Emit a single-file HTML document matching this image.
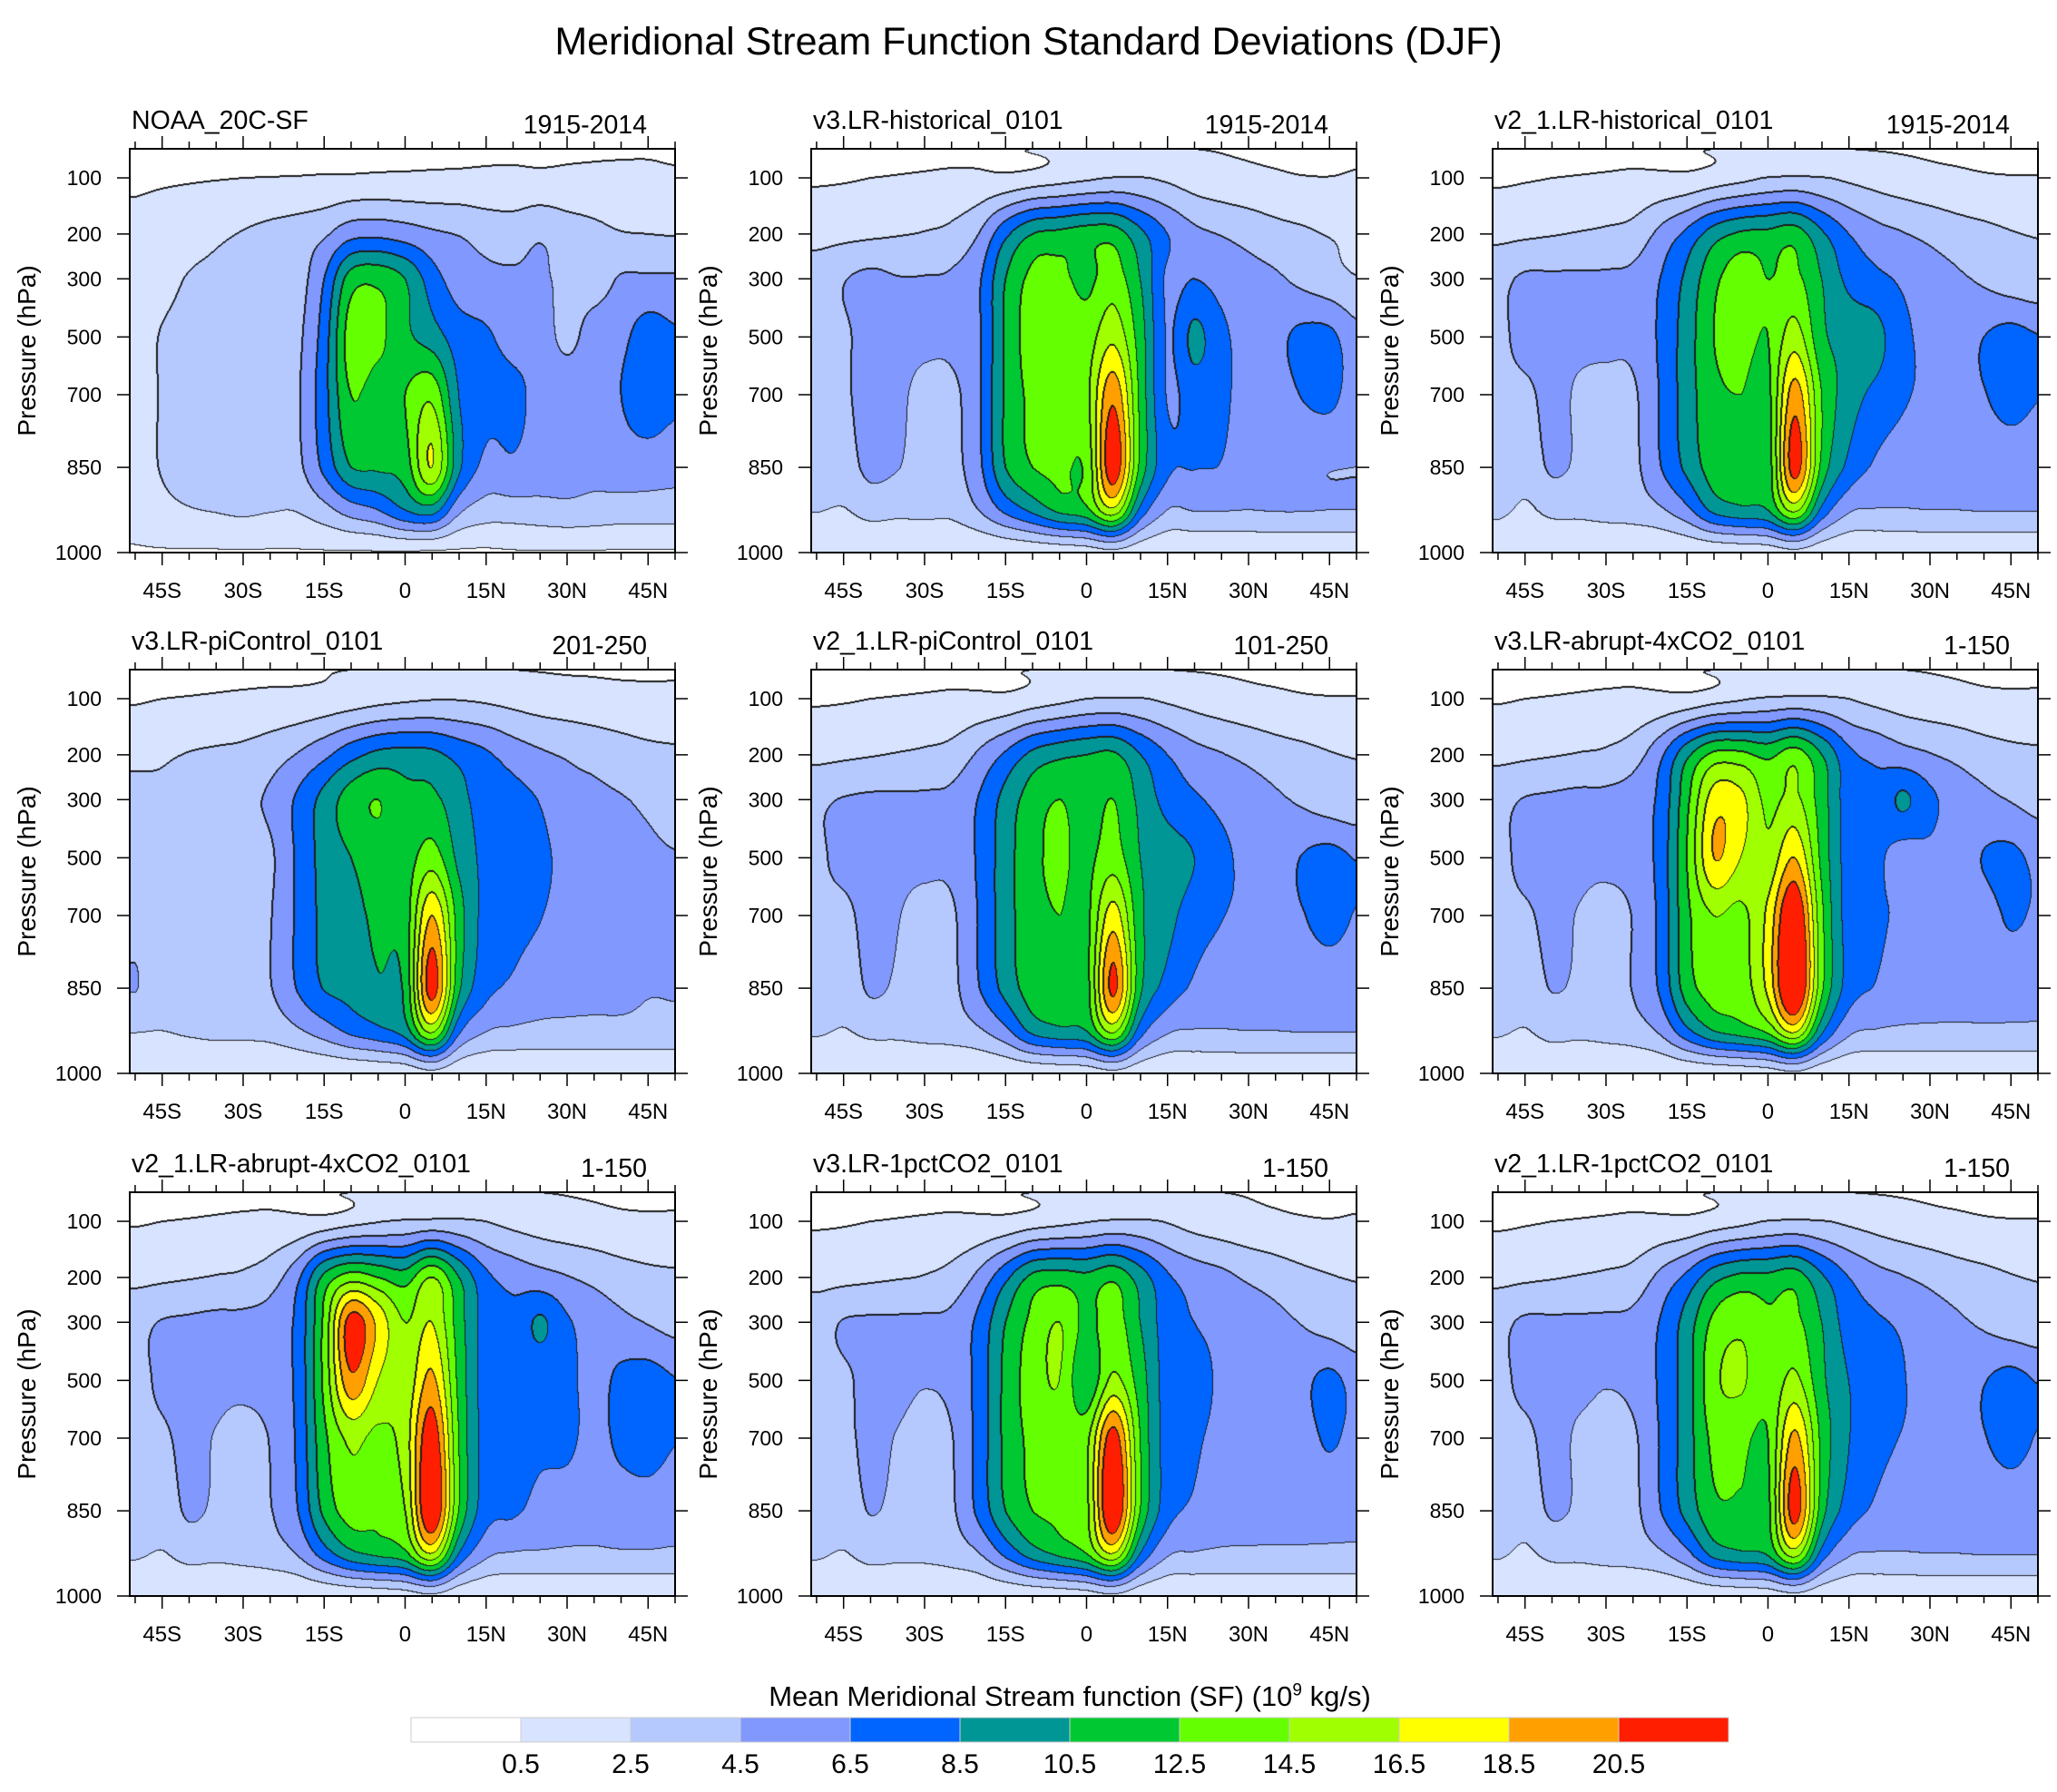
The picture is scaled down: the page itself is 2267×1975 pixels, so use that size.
<!DOCTYPE html>
<html><head><meta charset="utf-8">
<style>
html,body{margin:0;padding:0;background:#fff;}
body{width:2267px;height:1975px;position:relative;overflow:hidden;font-family:"Liberation Sans",sans-serif;}
.t{position:absolute;white-space:nowrap;color:#000;}
canvas{position:absolute;}
svg{position:absolute;left:0;top:0;}
</style></head>
<body>
<div class="t" style="left:0;width:2267px;text-align:center;top:22px;font-size:43px;">Meridional Stream Function Standard Deviations (DJF)</div>
<div class="t" style="left:0;width:2358px;text-align:center;top:1852px;font-size:31px;">Mean Meridional Stream function (SF) (10<sup style="font-size:19px">9</sup> kg/s)</div>
<svg id="ov" width="2267" height="1975"></svg>
<script>
const LATS=[-50,-45,-40,-35,-30,-25,-20,-15,-10,-5,0,5,10,15,20,25,30,35,40,45,50];
const LEVELS=[70,100,200,300,500,700,850,925,1000];
const P_TICKS=[100,200,300,500,700,850,1000];
const LAT_TICKS=[-45,-30,-15,0,15,30,45];
const LAT_TICK_LABELS=["45S","30S","15S","0","15N","30N","45N"];
const THRESHOLDS=[0.5,2.5,4.5,6.5,8.5,10.5,12.5,14.5,16.5,18.5,20.5];
const COLORBAR_LABELS=["0.5","2.5","4.5","6.5","8.5","10.5","12.5","14.5","16.5","18.5","20.5"];
const COLORS=["#ffffff","#d7e3ff","#b5c9ff","#8199ff","#0064ff","#009696","#00c832","#64ff00","#a0ff00","#ffff00","#ffa000","#ff1e00"];
const NAMES=["NOAA_20C-SF","v3.LR-historical_0101","v2_1.LR-historical_0101","v3.LR-piControl_0101","v2_1.LR-piControl_0101","v3.LR-abrupt-4xCO2_0101","v2_1.LR-abrupt-4xCO2_0101","v3.LR-1pctCO2_0101","v2_1.LR-1pctCO2_0101"];
const PERIODS=["1915-2014","1915-2014","1915-2014","201-250","101-250","1-150","1-150","1-150","1-150"];
const P1=[
[0.2,0.2,0.2,0.2,0.2,0.2,0.25,0.3,0.3,0.35,0.4,0.4,0.4,0.4,0.4,0.4,0.4,0.4,0.4,0.4,0.35],
[0.3,0.35,0.4,0.45,0.5,0.55,0.6,0.7,0.8,0.9,0.9,0.9,0.9,0.9,0.9,0.9,0.9,0.9,0.9,0.9,0.8],
[1.0,1.4,1.8,2.2,2.6,3.0,3.4,4.2,5.8,6.0,5.5,4.8,4.4,3.8,3.6,4.2,3.5,3.0,2.6,2.5,2.4],
[1.5,2.0,2.6,2.8,2.9,3.0,3.6,6.5,11.5,12.0,10.5,7.5,5.5,5.0,4.8,4.8,4.0,3.5,4.7,4.8,4.8],
[1.8,2.6,2.9,3.0,3.0,3.1,4.0,7.5,13.5,13.0,11.0,9.5,7.5,6.8,5.8,5.6,4.0,5.5,6.0,7.5,6.8],
[1.8,2.6,3.0,3.0,3.0,3.2,4.2,7.8,12.5,11.5,12.5,14.0,8.5,7.2,7.0,6.0,5.8,5.5,6.5,7.8,7.0],
[1.8,2.6,3.0,3.0,3.0,3.2,4.0,7.0,10.5,10.8,11.5,16.5,9.0,6.0,6.2,5.5,5.2,5.0,5.5,5.5,5.2],
[1.2,2.0,2.4,2.6,2.8,2.6,2.6,3.8,5.5,6.5,8.5,9.5,5.0,3.6,3.6,3.8,4.0,3.8,3.6,3.6,3.6],
[0.4,0.4,0.4,0.4,0.4,0.4,0.4,0.4,0.4,0.4,0.4,0.3,0.3,0.3,0.4,0.4,0.4,0.4,0.4,0.4,0.4]];
const P2=[
[0.2,0.2,0.25,0.3,0.3,0.35,0.4,0.45,0.5,0.55,0.6,0.6,0.6,0.55,0.5,0.45,0.4,0.35,0.3,0.3,0.35],
[0.35,0.4,0.5,0.6,0.7,0.8,0.9,1.0,1.4,1.8,2.2,2.6,2.6,2.2,1.6,1.2,1.0,0.8,0.6,0.55,0.7],
[1.8,2.0,2.2,2.4,2.6,3.0,4.5,8.0,10.5,11.0,11.5,11.5,9.0,6.5,5.0,4.4,3.8,3.2,2.8,2.4,2.2],
[3.6,4.4,5.0,4.6,4.6,4.8,6.2,10.5,13.0,13.0,12.0,13.5,10.5,6.2,6.5,5.8,5.2,4.8,4.0,3.2,2.6],
[3.6,4.2,5.2,5.2,5.0,5.0,6.2,10.8,13.5,14.0,13.5,16.0,11.5,6.4,9.0,7.0,5.8,6.0,7.0,7.0,5.2],
[3.6,4.2,5.2,5.0,3.8,4.0,6.2,10.8,13.0,13.5,14.0,20.0,12.0,6.4,7.5,7.0,5.6,5.5,6.6,7.0,5.6],
[3.6,3.6,5.0,4.6,3.6,3.8,6.0,10.5,12.5,13.0,13.0,22.0,12.0,7.0,6.6,6.4,5.0,4.9,4.8,4.6,4.5],
[2.6,2.4,3.2,3.0,3.0,3.0,4.5,7.0,9.0,11.0,12.0,16.0,8.0,4.5,4.6,4.6,4.5,4.6,4.6,4.5,4.5],
[0.6,0.6,0.6,0.6,0.6,0.6,0.6,0.8,1.0,1.2,1.5,2.0,1.2,0.8,0.7,0.7,0.7,0.7,0.7,0.7,0.7]];
const P3=[
[0.2,0.2,0.25,0.3,0.3,0.35,0.4,0.45,0.5,0.55,0.6,0.6,0.55,0.5,0.45,0.4,0.35,0.3,0.3,0.3,0.3],
[0.3,0.4,0.5,0.6,0.7,0.8,0.9,1.0,1.5,2.0,2.6,2.8,2.6,2.2,1.8,1.4,1.1,0.9,0.7,0.6,0.6],
[2.0,2.2,2.4,2.6,2.8,3.2,5.0,7.0,9.5,10.8,11.0,11.5,8.8,6.5,5.2,4.6,4.0,3.4,3.0,2.6,2.4],
[4.0,4.8,4.8,4.8,4.8,5.0,6.5,9.0,12.0,13.5,12.5,13.0,10.5,8.0,7.0,6.2,5.4,4.8,4.2,3.4,3.0],
[4.0,5.2,5.2,5.0,5.0,5.0,6.8,9.5,12.5,13.2,12.5,15.5,11.0,9.8,9.2,7.0,6.0,5.6,6.5,7.2,6.6],
[4.0,4.0,5.2,4.2,3.8,4.2,6.6,9.5,12.0,12.5,12.0,19.5,12.5,9.5,8.0,6.8,6.0,5.6,6.4,7.2,6.6],
[4.0,3.2,4.8,4.2,3.6,4.0,6.4,9.0,11.5,12.0,11.5,21.5,12.0,8.0,6.2,5.4,5.0,5.0,5.2,5.4,5.2],
[3.0,2.2,3.0,3.0,3.2,3.4,4.2,6.0,9.0,10.0,10.5,15.0,8.0,4.8,4.4,4.4,4.5,4.5,4.6,4.6,4.6],
[0.6,0.5,0.6,0.6,0.6,0.6,0.6,0.8,1.0,1.2,1.4,2.0,1.2,0.8,0.8,0.8,0.8,0.8,0.8,0.8,0.8]];
const P4=[
[0.2,0.2,0.25,0.3,0.3,0.35,0.4,0.45,0.5,0.55,0.6,0.6,0.6,0.55,0.5,0.45,0.4,0.4,0.35,0.35,0.35],
[0.4,0.5,0.6,0.7,0.8,0.9,1.0,1.2,1.5,1.9,2.2,2.4,2.4,2.2,1.9,1.6,1.4,1.2,1.1,1.0,1.0],
[1.8,2.2,2.6,2.8,3.0,3.6,4.6,6.0,7.8,9.0,9.2,9.0,7.8,6.8,5.6,4.8,4.3,3.9,3.4,3.0,2.8],
[3.6,3.0,3.8,4.0,4.2,4.8,6.8,9.2,11.5,12.5,11.0,11.0,9.2,7.6,7.2,6.4,5.0,4.8,4.6,4.2,3.6],
[3.6,3.4,3.6,3.6,3.8,4.2,6.8,9.2,10.5,11.5,11.5,13.5,10.0,8.0,7.5,7.0,5.8,4.8,4.8,4.8,4.6],
[3.8,3.4,3.8,3.6,3.8,4.4,6.8,9.0,9.8,11.0,11.5,18.5,11.5,7.8,7.2,6.6,5.6,5.0,5.0,5.0,4.8],
[4.6,3.4,4.0,3.8,3.8,4.4,6.6,8.6,9.2,10.2,11.0,21.5,11.0,7.2,6.2,5.4,5.0,4.8,4.8,4.6,4.6],
[2.6,2.5,2.8,3.0,3.0,3.2,4.2,5.5,7.0,8.0,9.5,15.0,7.0,4.6,4.2,4.0,4.0,4.0,4.0,3.9,3.9],
[0.6,0.6,0.6,0.6,0.6,0.6,0.6,0.7,0.8,1.0,1.2,2.0,1.0,0.7,0.7,0.7,0.7,0.7,0.7,0.7,0.7]];
const P5=[
[0.2,0.2,0.25,0.3,0.3,0.35,0.4,0.45,0.5,0.55,0.6,0.6,0.55,0.5,0.45,0.4,0.35,0.3,0.3,0.3,0.3],
[0.35,0.4,0.5,0.6,0.7,0.8,0.9,1.0,1.5,2.0,2.5,2.7,2.6,2.2,1.8,1.4,1.1,0.9,0.7,0.6,0.6],
[2.0,2.2,2.4,2.6,2.8,3.2,4.8,6.8,9.0,10.0,10.5,10.8,8.5,6.5,5.2,4.6,4.0,3.4,3.0,2.6,2.4],
[4.2,4.6,4.8,4.8,4.8,5.0,6.6,9.2,11.5,12.5,11.5,12.5,10.0,7.8,6.8,6.0,5.4,4.8,4.2,3.4,3.0],
[4.2,5.0,5.2,5.0,5.0,5.0,6.8,9.6,12.0,12.8,12.0,13.5,10.5,9.5,8.5,7.0,6.0,5.5,6.6,7.2,6.4],
[4.2,4.0,5.2,4.6,3.8,4.2,6.6,9.6,11.8,12.5,12.0,17.5,11.0,9.2,7.5,6.6,6.0,5.6,6.4,7.2,6.4],
[4.2,3.2,4.8,4.2,3.6,4.0,6.4,9.2,11.5,12.0,11.8,21.0,11.0,7.8,6.2,5.4,5.0,5.0,5.2,5.4,5.2],
[2.8,2.4,3.0,3.0,3.2,3.4,4.2,6.0,9.0,10.0,10.5,15.0,7.5,4.8,4.4,4.4,4.5,4.5,4.6,4.6,4.6],
[0.6,0.5,0.6,0.6,0.6,0.6,0.6,0.8,1.0,1.2,1.4,2.0,1.2,0.8,0.8,0.8,0.8,0.8,0.8,0.8,0.8]];
const P6=[
[0.2,0.2,0.25,0.3,0.3,0.35,0.4,0.45,0.5,0.6,0.65,0.65,0.65,0.6,0.55,0.5,0.45,0.4,0.35,0.35,0.35],
[0.4,0.5,0.6,0.7,0.8,0.9,1.0,1.2,1.8,2.3,2.8,3.0,2.9,2.5,2.0,1.6,1.3,1.1,0.9,0.8,0.8],
[2.0,2.2,2.4,2.6,2.8,3.6,6.0,10.0,13.0,13.0,12.0,13.5,10.5,7.0,6.0,5.2,4.6,4.0,3.4,3.0,2.8],
[4.0,4.6,4.8,5.0,5.0,5.5,7.0,12.0,17.5,17.0,14.0,15.0,11.5,7.5,7.0,8.8,7.0,5.6,5.0,4.4,3.8],
[4.0,5.0,5.0,5.0,5.0,5.4,7.2,12.5,18.5,16.5,15.0,18.5,12.0,7.6,7.0,5.6,6.0,5.4,6.6,7.0,6.0],
[4.0,4.2,5.0,4.4,3.8,4.6,7.0,12.0,14.5,14.0,17.0,23.0,13.0,7.6,6.8,6.2,5.4,5.4,5.6,6.8,6.2],
[4.0,3.4,4.6,4.2,3.8,4.6,6.8,11.5,13.5,13.5,17.0,24.0,13.0,7.6,6.4,5.6,5.0,4.8,5.0,5.0,4.8],
[2.8,2.4,3.2,3.0,3.2,3.6,4.8,8.0,10.5,11.5,13.0,17.0,9.0,5.0,4.4,4.2,4.2,4.2,4.2,4.2,4.2],
[0.7,0.6,0.6,0.6,0.6,0.6,0.7,0.9,1.1,1.3,1.6,2.2,1.2,0.8,0.8,0.8,0.8,0.8,0.8,0.8,0.8]];
const P7=[
[0.2,0.2,0.25,0.3,0.3,0.35,0.4,0.45,0.5,0.6,0.65,0.65,0.65,0.6,0.55,0.5,0.45,0.4,0.35,0.35,0.35],
[0.4,0.5,0.6,0.7,0.8,0.9,1.0,1.3,1.9,2.4,2.8,3.0,2.9,2.5,2.0,1.6,1.3,1.1,0.9,0.8,0.8],
[2.0,2.2,2.4,2.6,2.8,3.6,6.0,11.0,13.5,12.5,11.5,14.5,10.5,7.0,5.8,5.2,4.6,4.0,3.4,3.0,2.8],
[4.0,4.6,4.8,5.0,5.0,5.4,7.0,13.0,21.5,18.0,14.5,16.5,11.5,7.6,7.0,8.8,6.8,5.6,5.0,4.4,3.8],
[4.0,4.8,5.0,5.0,5.0,5.4,7.0,13.0,20.0,16.5,15.0,19.0,12.0,7.6,7.2,7.0,7.0,5.8,7.0,7.4,6.6],
[4.0,4.2,5.0,4.4,3.8,4.6,6.8,12.0,15.0,14.0,15.5,22.0,12.5,7.6,7.0,6.8,7.0,5.8,7.0,7.4,6.6],
[4.0,3.4,4.8,4.2,3.8,4.4,6.4,11.0,13.5,13.0,14.5,23.0,12.5,7.4,6.8,6.0,5.4,5.0,5.4,5.6,5.2],
[2.8,2.4,3.2,3.0,3.2,3.6,4.6,7.5,10.0,11.0,12.0,16.5,8.5,5.0,4.4,4.3,4.2,4.2,4.3,4.3,4.2],
[0.7,0.6,0.6,0.6,0.6,0.6,0.7,0.9,1.1,1.3,1.6,2.2,1.2,0.8,0.8,0.8,0.8,0.8,0.8,0.8,0.8]];
const P8=[
[0.2,0.2,0.25,0.3,0.3,0.35,0.4,0.45,0.5,0.55,0.6,0.65,0.65,0.6,0.55,0.5,0.45,0.4,0.35,0.3,0.35],
[0.35,0.4,0.5,0.6,0.7,0.8,0.9,1.1,1.6,2.0,2.4,2.8,2.8,2.4,1.8,1.4,1.1,0.9,0.7,0.6,0.7],
[1.8,2.0,2.2,2.4,2.6,3.2,5.0,8.0,11.0,11.5,11.0,12.0,9.5,6.8,5.6,5.0,4.2,3.6,3.0,2.6,2.4],
[3.8,4.6,4.8,4.8,4.8,5.0,7.0,10.5,13.0,14.5,12.0,13.5,10.5,7.5,6.5,6.0,5.6,5.0,4.4,3.6,3.0],
[3.8,4.2,5.0,5.0,4.6,5.0,7.2,11.0,13.5,14.5,10.8,15.0,11.5,7.6,7.2,6.2,5.6,5.2,6.0,7.0,5.8],
[3.8,4.0,5.0,4.4,3.8,4.4,7.2,11.0,13.0,13.5,14.0,21.5,12.5,7.6,6.8,6.0,5.6,5.4,5.6,6.8,5.8],
[3.8,3.4,4.6,4.0,3.6,4.2,7.0,10.5,12.5,13.0,14.0,23.0,12.5,7.4,6.2,5.4,5.0,4.8,4.8,4.8,4.6],
[2.8,2.4,3.2,3.0,3.0,3.4,4.4,7.0,9.5,11.0,12.5,16.5,8.5,4.8,4.4,4.2,4.2,4.2,4.2,4.2,4.2],
[0.6,0.6,0.6,0.6,0.6,0.6,0.7,0.9,1.1,1.3,1.6,2.2,1.2,0.8,0.8,0.8,0.8,0.8,0.8,0.8,0.8]];
const P9=[
[0.2,0.2,0.25,0.3,0.3,0.35,0.4,0.45,0.5,0.55,0.6,0.6,0.55,0.5,0.45,0.4,0.35,0.3,0.3,0.3,0.3],
[0.3,0.4,0.5,0.6,0.7,0.8,0.9,1.0,1.5,2.0,2.6,2.8,2.6,2.2,1.8,1.4,1.1,0.9,0.7,0.6,0.6],
[2.0,2.2,2.4,2.6,2.8,3.2,5.0,7.0,9.8,11.0,11.0,11.5,8.8,6.5,5.2,4.6,4.0,3.4,3.0,2.6,2.4],
[4.0,4.8,4.8,4.8,4.8,5.0,6.6,9.4,13.0,14.0,12.8,13.0,10.5,7.6,6.8,6.2,5.4,4.8,4.2,3.4,3.0],
[4.0,5.0,5.2,5.0,4.6,5.0,6.8,9.6,14.0,14.8,13.0,15.0,11.0,8.5,7.6,6.6,6.0,5.4,6.4,7.2,6.4],
[4.0,4.0,5.2,4.2,3.8,4.2,6.6,9.6,13.0,13.0,12.5,19.0,12.0,8.6,7.2,6.4,6.0,5.6,6.4,7.2,6.4],
[4.0,3.2,4.8,4.2,3.6,4.0,6.4,9.2,12.0,12.2,12.0,21.5,11.5,7.6,6.2,5.4,5.0,5.0,5.2,5.4,5.2],
[2.8,2.2,3.0,3.0,3.2,3.4,4.2,6.0,9.2,10.2,10.8,15.5,7.8,4.8,4.4,4.4,4.5,4.5,4.6,4.6,4.6],
[0.6,0.5,0.6,0.6,0.6,0.6,0.6,0.8,1.0,1.2,1.4,2.0,1.2,0.8,0.8,0.8,0.8,0.8,0.8,0.8,0.8]];
const PANELS=[P1,P2,P3,P4,P5,P6,P7,P8,P9];

const PW=601, PH=445;
const LEFTS=[143,894,1645], TOPS=[164,738,1314];
const LAT_MIN=-51, LAT_MAX=50;
function xOfLat(lat){return (lat-LAT_MIN)/(LAT_MAX-LAT_MIN)*PW;}
function pScale(){return {p:[70,100,200,300,500,700,850,925,1000],f:[1,0.928,0.789,0.678,0.534,0.391,0.211,0.105,0]};}
function yOfP(p){const s=pScale();for(let i=0;i<s.p.length-1;i++){if(p>=s.p[i]&&p<=s.p[i+1]){const t=(p-s.p[i])/(s.p[i+1]-s.p[i]);return PH*(1-(s.f[i]+(s.f[i+1]-s.f[i])*t));}}return p<70?0:PH;}
function rowIndexOfY(y){
  for(let i=0;i<LEVELS.length-1;i++){const a=yOfP(LEVELS[i]),b=yOfP(LEVELS[i+1]);if(y>=a&&y<=b)return i+(y-a)/(b-a);}
  return y<yOfP(LEVELS[0])?0:LEVELS.length-1;}
function cr(p0,p1,p2,p3,t){return 0.5*((2*p1)+(-p0+p2)*t+(2*p0-5*p1+4*p2-p3)*t*t+(-p0+3*p1-3*p2+p3)*t*t*t);}
function sample(D,r,c){
  const R=D.length,C=D[0].length;
  const r0=Math.min(Math.floor(r),R-2),c0=Math.min(Math.floor(c),C-2);
  const tr=r-r0,tc=c-c0;const rows=[];
  for(let k=-1;k<=2;k++){const rr=Math.max(0,Math.min(R-1,r0+k));const row=D[rr];
    const g=j=>row[Math.max(0,Math.min(C-1,j))];
    rows.push(cr(g(c0-1),g(c0),g(c0+1),g(c0+2),tc));}
  return cr(rows[0],rows[1],rows[2],rows[3],tr);}
function binOf(v){let b=0;for(const t of THRESHOLDS){if(v>=t)b++;}return b;}
function hex(h){return [parseInt(h.substr(1,2),16),parseInt(h.substr(3,2),16),parseInt(h.substr(5,2),16)];}
const RGB=COLORS.map(hex);
const NS="http://www.w3.org/2000/svg";
const ov=document.getElementById('ov');
function sv(tag,attrs,name){const e=document.createElementNS(NS,tag);for(const k in attrs)e.setAttribute(k,attrs[k]);
  
  
  ov.appendChild(e);return e;}
function txt(x,y,s,size,anchor,name,rot){const e=sv('text',{x:x,y:y,'font-size':size,'text-anchor':anchor,'font-family':'Liberation Sans, sans-serif',fill:'#000'},name);
  if(rot)e.setAttribute('transform','rotate(-90 '+x+' '+y+')');e.textContent=s;return e;}

function drawPanel(k){
  const D=PANELS[k];const L=LEFTS[k%3],T=TOPS[Math.floor(k/3)];
  const cv=document.createElement('canvas');cv.width=PW;cv.height=PH;cv.style.left=L+'px';cv.style.top=T+'px';
  
  
  document.body.insertBefore(cv,ov);
  const ctx=cv.getContext('2d');const img=ctx.createImageData(PW,PH);
  const bins=new Uint8Array(PW*PH);
  const rIdx=[];for(let y=0;y<PH;y++)rIdx.push(rowIndexOfY(y+0.5));
  const cIdx=[];for(let x=0;x<PW;x++){const lat=LAT_MIN+(x+0.5)/PW*(LAT_MAX-LAT_MIN);cIdx.push(Math.max(0,Math.min(LATS.length-1,(lat-LATS[0])/(LATS[1]-LATS[0]))));}
  for(let y=0;y<PH;y++)for(let x=0;x<PW;x++)bins[y*PW+x]=binOf(sample(D,rIdx[y],cIdx[x]));
  for(let y=0;y<PH;y++)for(let x=0;x<PW;x++){
    const i=y*PW+x,b=bins[i];let c=RGB[b];
    const edge=(x<PW-1&&bins[i+1]!==b)||(y<PH-1&&bins[i+PW]!==b)||(x>0&&bins[i-1]!==b&&bins[i-1]<b)||(y>0&&bins[i-PW]!==b&&bins[i-PW]<b);
    if(edge)c=[30,30,30];
    img.data[i*4]=c[0];img.data[i*4+1]=c[1];img.data[i*4+2]=c[2];img.data[i*4+3]=255;}
  ctx.putImageData(img,0,0);
  sv('rect',{x:L,y:T,width:PW,height:PH,fill:'none',stroke:'#000','stroke-width':2},'plot-frame-'+(k+1));
  for(let lat=-50;lat<=50;lat+=5){const x=L+xOfLat(lat);const major=LAT_TICKS.indexOf(lat)>=0;const len=major?14:8;
    sv('line',{x1:x,y1:T+PH,x2:x,y2:T+PH+len,stroke:'#000','stroke-width':1.5},'x-tick');
    sv('line',{x1:x,y1:T,x2:x,y2:T-len,stroke:'#000','stroke-width':1.5},'x-tick-top');}
  LAT_TICKS.forEach((lat,j)=>txt(L+xOfLat(lat),T+PH+50,LAT_TICK_LABELS[j],24,'middle','x-tick-label'));
  P_TICKS.forEach(p=>{const y=T+yOfP(p);
    sv('line',{x1:L-14,y1:y,x2:L,y2:y,stroke:'#000','stroke-width':1.5},'y-tick');
    sv('line',{x1:L+PW,y1:y,x2:L+PW+14,y2:y,stroke:'#000','stroke-width':1.5},'y-tick-right');
    txt(L-31,y+8,String(p),23,'end','y-tick-label');});
  txt(L-104,T+PH/2,'Pressure (hPa)',28,'middle','y-axis-title',true);
  txt(L+2,T-22,NAMES[k],28.5,'start','panel-title-'+(k+1));
  txt(L+PW-31,T-17,PERIODS[k],28.5,'end','panel-period-'+(k+1));
}
for(let k=0;k<9;k++)drawPanel(k);
const CB_L=453,CB_T=1893,CB_W=1452,CB_H=27;const bw=CB_W/COLORS.length;
COLORS.forEach((c,i)=>sv('rect',{x:CB_L+i*bw,y:CB_T,width:bw,height:CB_H,fill:c,stroke:'#ccc','stroke-width':1},'colorbar-box'));
COLORBAR_LABELS.forEach((s,i)=>txt(CB_L+(i+1)*bw,CB_T+CB_H+34,s,30,'middle','colorbar-label'));
</script>
</body></html>
